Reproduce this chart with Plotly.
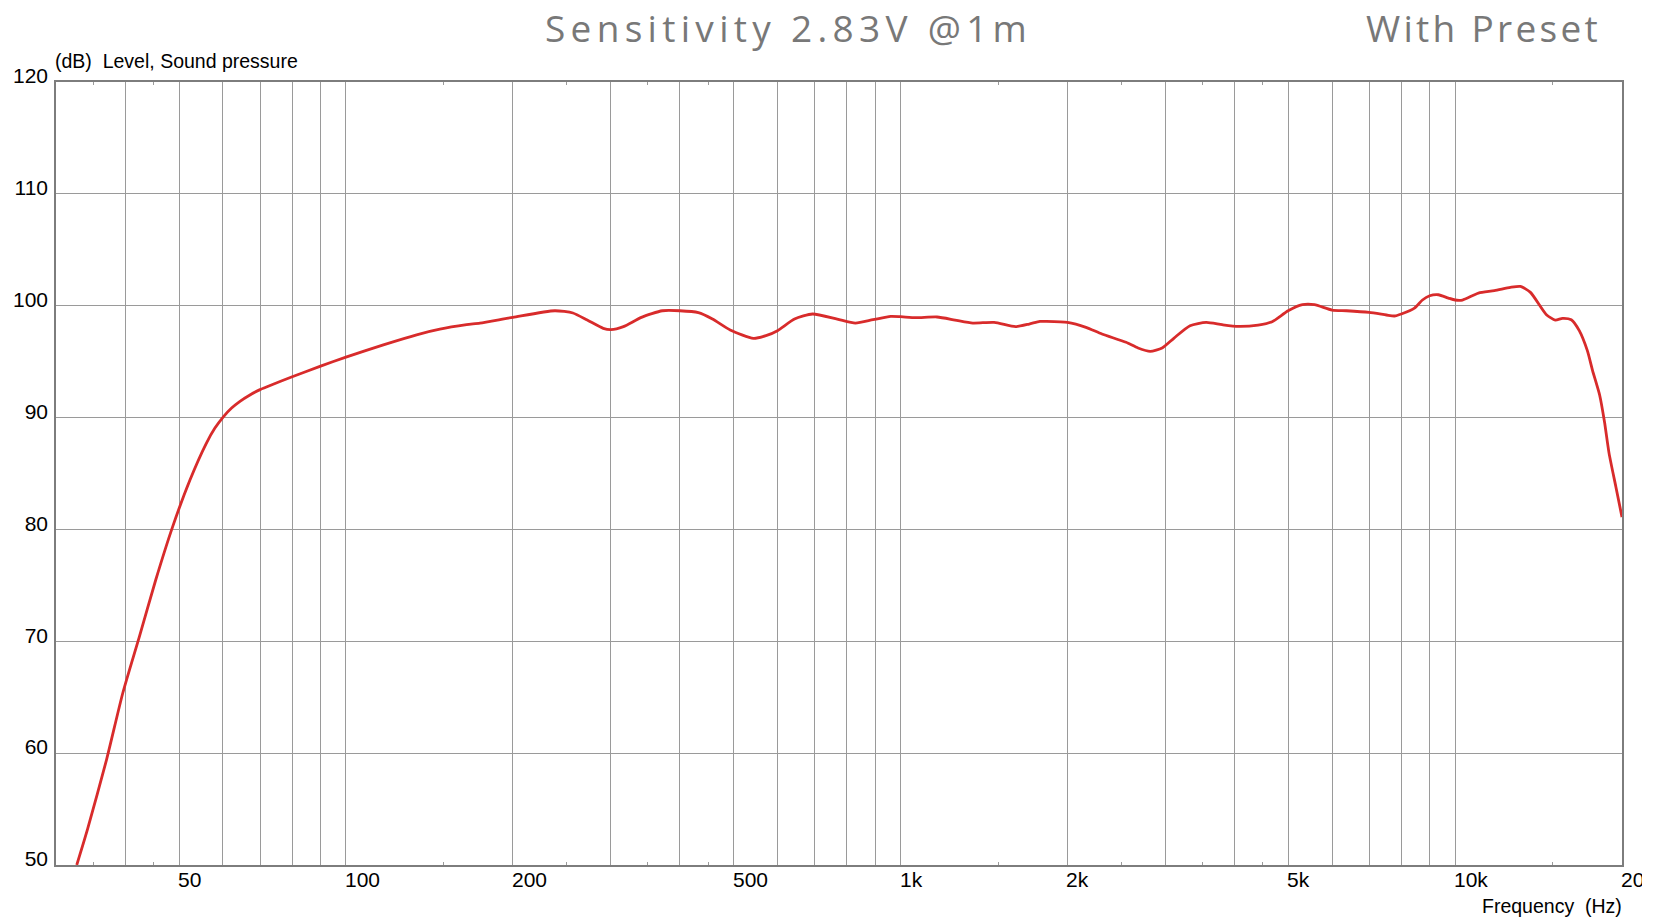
import numpy as np
import plotly.graph_objects as go

# ---- data ----
freq_hz = [32.7, 34.2, 37.0, 39.6, 42.4, 45.4, 48.7, 52.3, 56.0, 58.0, 60.1, 62.2, 64.4, 67, 70, 80, 90, 100,
           116.8, 134.1, 147.7, 165, 174.4, 200, 238, 256.6, 272.3, 291, 300.5, 316.5, 341, 372,
           400, 432, 458, 493, 543, 572, 600, 644, 694, 769, 829, 892, 960, 1000, 1065, 1164,
           1254, 1350, 1475, 1612, 1706, 1783, 1828, 2000, 2160, 2308, 2551, 2681, 2820, 2963,
           3114, 3327, 3558, 3802, 4065, 4414, 4679, 5000, 5306, 5577, 6000, 6372, 7000, 7520,
           7773, 8000, 8449, 8734, 9000, 9330, 9729, 10000, 10311, 11020, 11775, 12580, 13118,
           13676, 14613, 15160, 15620, 16200, 16750, 17320, 17700, 18230, 18600, 18955, 19500, 20000]
level_db = [50.0, 53.2, 59.4, 65.4, 70.4, 75.5, 80.25, 84.4, 87.7, 89.04, 90.07, 90.85, 91.45, 92.0, 92.5, 93.65, 94.6, 95.4,
            96.5, 97.4, 97.9, 98.3, 98.45, 98.96, 99.55, 99.35, 98.72, 97.98, 97.86, 98.13, 98.96, 99.55,
            99.55, 99.38, 98.81, 97.83, 97.08, 97.32, 97.77, 98.81, 99.26, 98.81, 98.45, 98.75, 99.05, 99.02, 98.93, 98.99,
            98.72, 98.45, 98.51, 98.13, 98.36, 98.6, 98.6, 98.51, 98.07, 97.47, 96.73, 96.22, 95.92, 96.22,
            97.11, 98.21, 98.51, 98.3, 98.15, 98.27, 98.57, 99.55, 100.09, 100.09, 99.61, 99.55, 99.4, 99.17,
            99.08, 99.26, 99.79, 100.51, 100.89, 100.98, 100.68, 100.51, 100.51, 101.13, 101.34, 101.64, 101.73,
            101.19, 99.2, 98.72, 98.87, 98.75, 97.77, 95.98, 94.2, 92.0, 89.6, 86.8, 83.8, 81.1]

x_grid_vals = [40, 50, 60, 70, 80, 90, 100, 200, 300, 400, 500, 600, 700, 800, 900,
               1000, 2000, 3000, 4000, 5000, 6000, 7000, 8000, 9000, 10000]
x_minor_vals = [35, 45, 150, 250, 350, 450, 1500, 2500, 3500, 4500, 15000]
x_label_vals = [50, 100, 200, 500, 1000, 2000, 5000, 10000, 20000]
x_label_text = ["50", "100", "200", "500", "1k", "2k", "5k", "10k", "20k"]
y_tick_vals = [50, 60, 70, 80, 90, 100, 110, 120]

title_text = "Sensitivity 2.83V @1m"
preset_text = "With Preset"
y_title = "(dB)\u00a0 Level, Sound pressure"
x_title = "Frequency\u00a0 (Hz)"

BLACK_FONT = "Liberation Sans, Arial, sans-serif"
GRAY_FONT = "Open Sans, sans-serif"
GRAY = "#787878"

fig = go.Figure()
fig.add_trace(go.Scatter(
    x=freq_hz, y=level_db, mode="lines",
    line=dict(color="#d82b2b", width=2.8, shape="spline", smoothing=0.6),
    hoverinfo="skip", showlegend=False,
))

annotations = []
for v, t in zip(x_label_vals, x_label_text):
    annotations.append(dict(
        x=np.log10(v), xref="x", y=0, yref="paper", text=t, showarrow=False,
        xanchor="left", yanchor="top", xshift=-3, yshift=-1,
        font=dict(family=BLACK_FONT, size=21, color="#000000"),
    ))

annotations += [
    dict(x=0, xref="paper", y=1, yref="paper", text=y_title, showarrow=False,
         xanchor="left", yanchor="bottom", xshift=-3, yshift=8,
         font=dict(family=BLACK_FONT, size=19.5, color="#000000")),
    dict(x=1, xref="paper", y=0, yref="paper", text=x_title, showarrow=False,
         xanchor="right", yanchor="top", xshift=2, yshift=-28,
         font=dict(family=BLACK_FONT, size=19.5, color="#000000")),
    dict(x=0.4679, xref="paper", y=1, yref="paper",
         text='<span style="letter-spacing:5.3px">' + title_text + '</span>', showarrow=False,
         xanchor="center", yanchor="bottom", yshift=27,
         font=dict(family=GRAY_FONT, size=37, color=GRAY)),
    dict(x=0.9869, xref="paper", y=1, yref="paper",
         text='<span style="letter-spacing:3.3px">' + preset_text + '</span>', showarrow=False,
         xanchor="right", yanchor="bottom", xshift=2, yshift=27,
         font=dict(family=GRAY_FONT, size=37, color=GRAY)),
]

fig.update_layout(
    width=1634, height=915,
    margin=dict(l=47.5, r=19.5, t=73.5, b=57.5, autoexpand=False),
    paper_bgcolor="white", plot_bgcolor="white",
    showlegend=False,
    annotations=annotations,
    xaxis=dict(
        type="log", range=[np.log10(30), np.log10(20000)], automargin=False,
        tickmode="array", tickvals=x_grid_vals, showticklabels=False, ticks="",
        showgrid=True, gridcolor="#9a9a9a", gridwidth=1,
        showline=True, linecolor="#7d7d7d", linewidth=1.5, mirror="allticks",
        zeroline=False,
        minor=dict(tickmode="array", tickvals=x_minor_vals, ticks="inside", ticklen=3,
                   tickcolor="#9a9a9a", tickwidth=1, showgrid=False),
    ),
    yaxis=dict(
        range=[50, 120], tickmode="array", tickvals=y_tick_vals, ticks="", automargin=False,
        showgrid=True, gridcolor="#9a9a9a", gridwidth=1,
        showline=True, linecolor="#7d7d7d", linewidth=1.5, mirror=True,
        zeroline=False, ticklabelstandoff=2, ticklabelshift=-6,
        tickfont=dict(family=BLACK_FONT, size=21, color="#000000"),
    ),
)

fig.write_html("out.html", config={"displayModeBar": False})
